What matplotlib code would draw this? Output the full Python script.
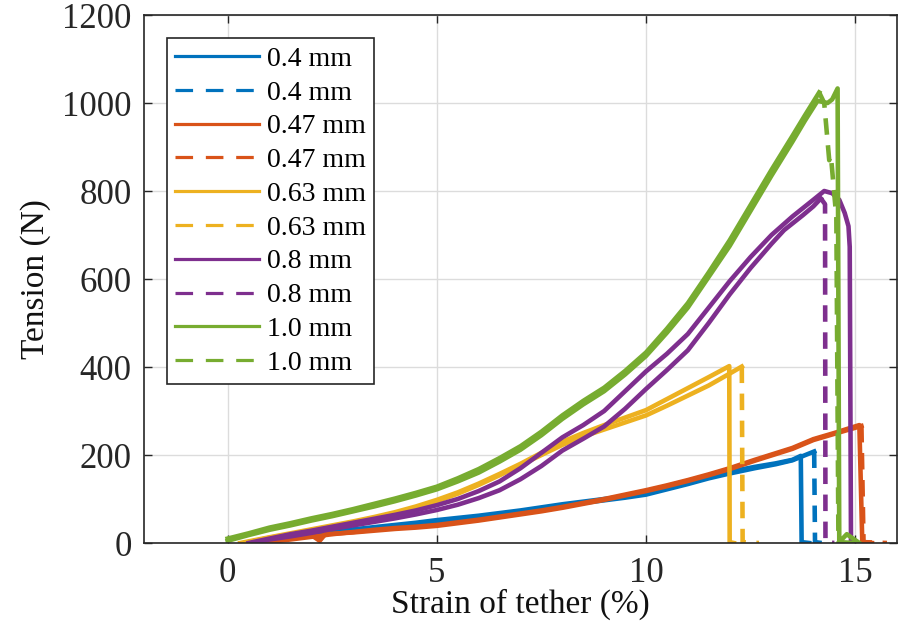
import matplotlib
matplotlib.use("Agg")
import matplotlib.pyplot as plt
import numpy as np

plt.rcParams['font.family'] = ['Liberation Serif', 'DejaVu Serif']

# --- tensile test data: strain (%) vs tension (N), two samples per diameter ---
x_04_a = [0.5, 1.0, 1.5, 2.0, 2.5, 3.0, 3.5, 4.0, 4.5, 5.0, 5.5, 6.0, 6.5, 7.0, 7.5, 8.0, 8.5, 9.0,
          9.5, 10.0, 10.5, 11.0, 11.5, 12.0, 12.6, 13.1, 13.5, 13.70, 13.72, 13.9]
y_04_a = [0, 6, 12, 19, 25, 31, 36, 41, 46, 52, 57, 62, 68, 74, 81, 88, 94, 100,
          106, 113, 125, 137, 150, 162, 173, 181, 189, 198, 2, 0]
x_04_b = [0.6, 1.0, 1.5, 2.0, 2.5, 3.0, 3.5, 4.0, 4.5, 5.0, 5.5, 6.0, 6.5, 7.0, 7.5, 8.0, 8.5, 9.0,
          9.5, 10.0, 10.5, 11.0, 11.5, 12.0, 12.6, 13.1, 13.5, 14.02, 14.04, 14.2]
y_04_b = [0, 4, 10, 16, 22, 28, 33, 38, 43, 48, 54, 59, 64, 71, 78, 85, 91, 97,
          103, 110, 122, 134, 147, 158, 170, 179, 188, 208, 2, 0]

x_047_a = [0.8, 1.5, 2.0, 2.5, 3.0, 3.5, 4.0, 4.5, 5.0, 5.5, 6.0, 6.5, 7.0, 7.5, 8.0, 8.5, 9.0, 9.5,
           10.0, 10.5, 11.0, 11.5, 12.0, 12.6, 13.0, 13.5, 14.0, 14.5, 15.1, 15.17, 15.4]
y_047_a = [0, 8, 14, 20, 25, 30, 34, 37, 41, 47, 53, 60, 67, 74, 82, 91, 100, 110,
           120, 131, 143, 156, 170, 189, 201, 216, 236, 250, 268, 2, 0]
x_047_b = [2.0, 2.2, 2.35, 2.5, 3.0, 3.5, 4.0, 4.5, 5.0, 5.5, 6.0, 6.5, 7.0, 7.5, 8.0, 8.5, 9.0, 9.5,
           10.0, 10.5, 11.0, 11.5, 12.0, 12.6, 13.0, 13.5, 14.0, 14.5, 15.15, 15.2, 15.76]
y_047_b = [18, 5, 22, 21, 24, 28, 32, 35, 39, 45, 51, 58, 65, 72, 80, 89, 98, 108,
           118, 129, 141, 154, 168, 187, 199, 214, 234, 248, 266, 2, 0]

x_063_a = [0.3, 1.0, 1.5, 2.0, 2.5, 3.0, 3.5, 4.0, 4.5, 5.0, 5.5, 6.0, 6.5, 7.0, 7.5, 8.0, 8.5, 9.0,
           9.5, 10.0, 10.5, 11.0, 11.5, 11.99, 12.0, 12.1]
y_063_a = [0, 13, 22, 31, 40, 49, 59, 70, 83, 98, 115, 135, 157, 180, 205, 230, 250, 268,
           285, 302, 327, 352, 377, 402, 2, 0]
x_063_b = [0.4, 1.0, 1.5, 2.0, 2.5, 3.0, 3.5, 4.0, 4.5, 5.0, 5.5, 6.0, 6.5, 7.0, 7.5, 8.0, 8.5, 9.0,
           9.5, 10.0, 10.5, 11.0, 11.5, 12.0, 12.29, 12.31, 12.7]
y_063_b = [0, 12, 20, 29, 38, 47, 56, 67, 80, 95, 112, 132, 154, 177, 200, 223, 242, 258,
           274, 290, 312, 335, 358, 385, 401, 2, 0]

x_08_a = [0.5, 1.0, 1.5, 2.0, 2.5, 3.0, 3.5, 4.0, 4.5, 5.0, 5.5, 6.0, 6.5, 7.0, 7.5, 8.0, 8.5, 9.0,
          9.5, 10.0, 10.5, 11.0, 11.5, 12.0, 12.5, 13.0, 13.5, 14.0, 14.26, 14.45, 14.62, 14.75,
          14.84, 14.87, 14.9, 14.95]
y_08_a = [0, 10, 20, 28, 37, 46, 55, 64, 74, 86, 100, 118, 140, 170, 205, 240, 268, 300,
          345, 390, 430, 475, 535, 595, 650, 700, 742, 780, 800, 795, 780, 750,
          720, 673, 2, 0]
x_08_b = [0.6, 1.0, 1.5, 2.0, 2.5, 3.0, 3.5, 4.0, 4.5, 5.0, 5.5, 6.0, 6.5, 7.0, 7.5, 8.0, 8.5, 9.0,
          9.5, 10.0, 10.5, 11.0, 11.5, 12.0, 12.5, 13.0, 13.3, 13.75, 14.0, 14.18, 14.28, 14.29, 14.5]
y_08_b = [0, 8, 15, 23, 32, 40, 48, 56, 65, 75, 87, 102, 120, 145, 175, 210, 237, 265,
          305, 350, 393, 438, 500, 565, 625, 680, 711, 745, 765, 783, 770, 2, 0]

x_10_a = [0.0, 0.5, 1.0, 1.5, 2.0, 2.5, 3.0, 3.5, 4.0, 4.5, 5.0, 5.5, 6.0, 6.5, 7.0, 7.5, 8.0, 8.5,
          9.0, 9.5, 10.0, 10.5, 11.0, 11.5, 12.0, 12.5, 13.0, 13.5, 13.8, 14.1, 14.34, 14.45, 14.58,
          14.62, 14.8, 15.1]
y_10_a = [5, 18, 30, 40, 51, 61, 72, 83, 95, 108, 122, 140, 160, 185, 212, 245, 282, 315,
          345, 383, 425, 478, 535, 605, 675, 755, 835, 912, 960, 1005, 1000, 1008, 1033,
          2, 20, 0]
x_10_b = [0.0, 0.5, 1.0, 1.5, 2.0, 2.5, 3.0, 3.5, 4.0, 4.5, 5.0, 5.5, 6.0, 6.5, 7.0, 7.5, 8.0, 8.5,
          9.0, 9.5, 10.0, 10.5, 11.0, 11.5, 12.0, 12.5, 13.0, 13.5, 13.8, 14.14, 14.26, 14.38, 14.42,
          14.55, 14.6, 15.0]
y_10_b = [10, 22, 35, 45, 56, 66, 77, 89, 101, 114, 128, 147, 168, 193, 220, 253, 290, 323,
          353, 391, 433, 487, 545, 615, 688, 768, 848, 925, 972, 1024, 1000, 870, 880,
          740, 2, 0]

series = [
    (x_04_a, y_04_a, x_04_b, y_04_b, '0.4 mm', '#0072BD'),
    (x_047_a, y_047_a, x_047_b, y_047_b, '0.47 mm', '#D95319'),
    (x_063_a, y_063_a, x_063_b, y_063_b, '0.63 mm', '#EDB120'),
    (x_08_a, y_08_a, x_08_b, y_08_b, '0.8 mm', '#7E2F8E'),
    (x_10_a, y_10_a, x_10_b, y_10_b, '1.0 mm', '#77AC30'),
]

fig = plt.figure(figsize=(9.1, 6.24), dpi=100)
ax = fig.add_axes([144 / 910, 1 - 543 / 624, 753 / 910, 528 / 624])

lw = 3.3
for xa, ya, xb, yb, name, c in series:
    ax.plot(xa, ya, color=c, lw=lw, label=name, solid_joinstyle='round')
    # noisy loading branch of the second sample reads as a solid band; only the break is dashed
    k = int(np.argmax(yb))
    ax.plot(xb[:k + 1], yb[:k + 1], color=c, lw=lw, solid_joinstyle='round')
    ax.plot(xb[k:], yb[k:], color=c, lw=lw, ls='--', dashes=(3.6, 2.3), label=name)

ax.set_xlim(-2, 16)
ax.set_ylim(0, 1200)
ax.set_xticks([0, 5, 10, 15])
ax.set_yticks(np.arange(0, 1201, 200))
ax.grid(True, color='#dcdcdc', lw=1.0)
ax.set_axisbelow(True)

for s in ax.spines.values():
    s.set_color('#262626')
    s.set_linewidth(1.2)
ax.tick_params(direction='in', length=6, width=1.0, colors='#262626',
               top=True, right=True, labelsize=25)
ax.tick_params(axis='x', pad=10)
ax.tick_params(axis='y', pad=9)

ax.set_xlabel('Strain of tether (%)', fontsize=24, color='#111111', labelpad=-1)
ax.set_ylabel('Tension (N)', fontsize=24, color='#111111', labelpad=8)

leg = ax.legend(loc='upper left', bbox_to_anchor=(23 / 753, 1 - 23 / 528),
                borderaxespad=0, fontsize=20, handlelength=3.0, handletextpad=0.3,
                labelspacing=0.3, borderpad=0.3, fancybox=False, framealpha=1)
leg.get_frame().set_edgecolor('#262626')
leg.get_frame().set_linewidth(1.2)
for i, ln in enumerate(leg.get_lines()):
    ln.set_linewidth(2.3)
    if i % 2:
        ln.set_dashes((5.5, 4))

fig.savefig('out.png', dpi=100)
